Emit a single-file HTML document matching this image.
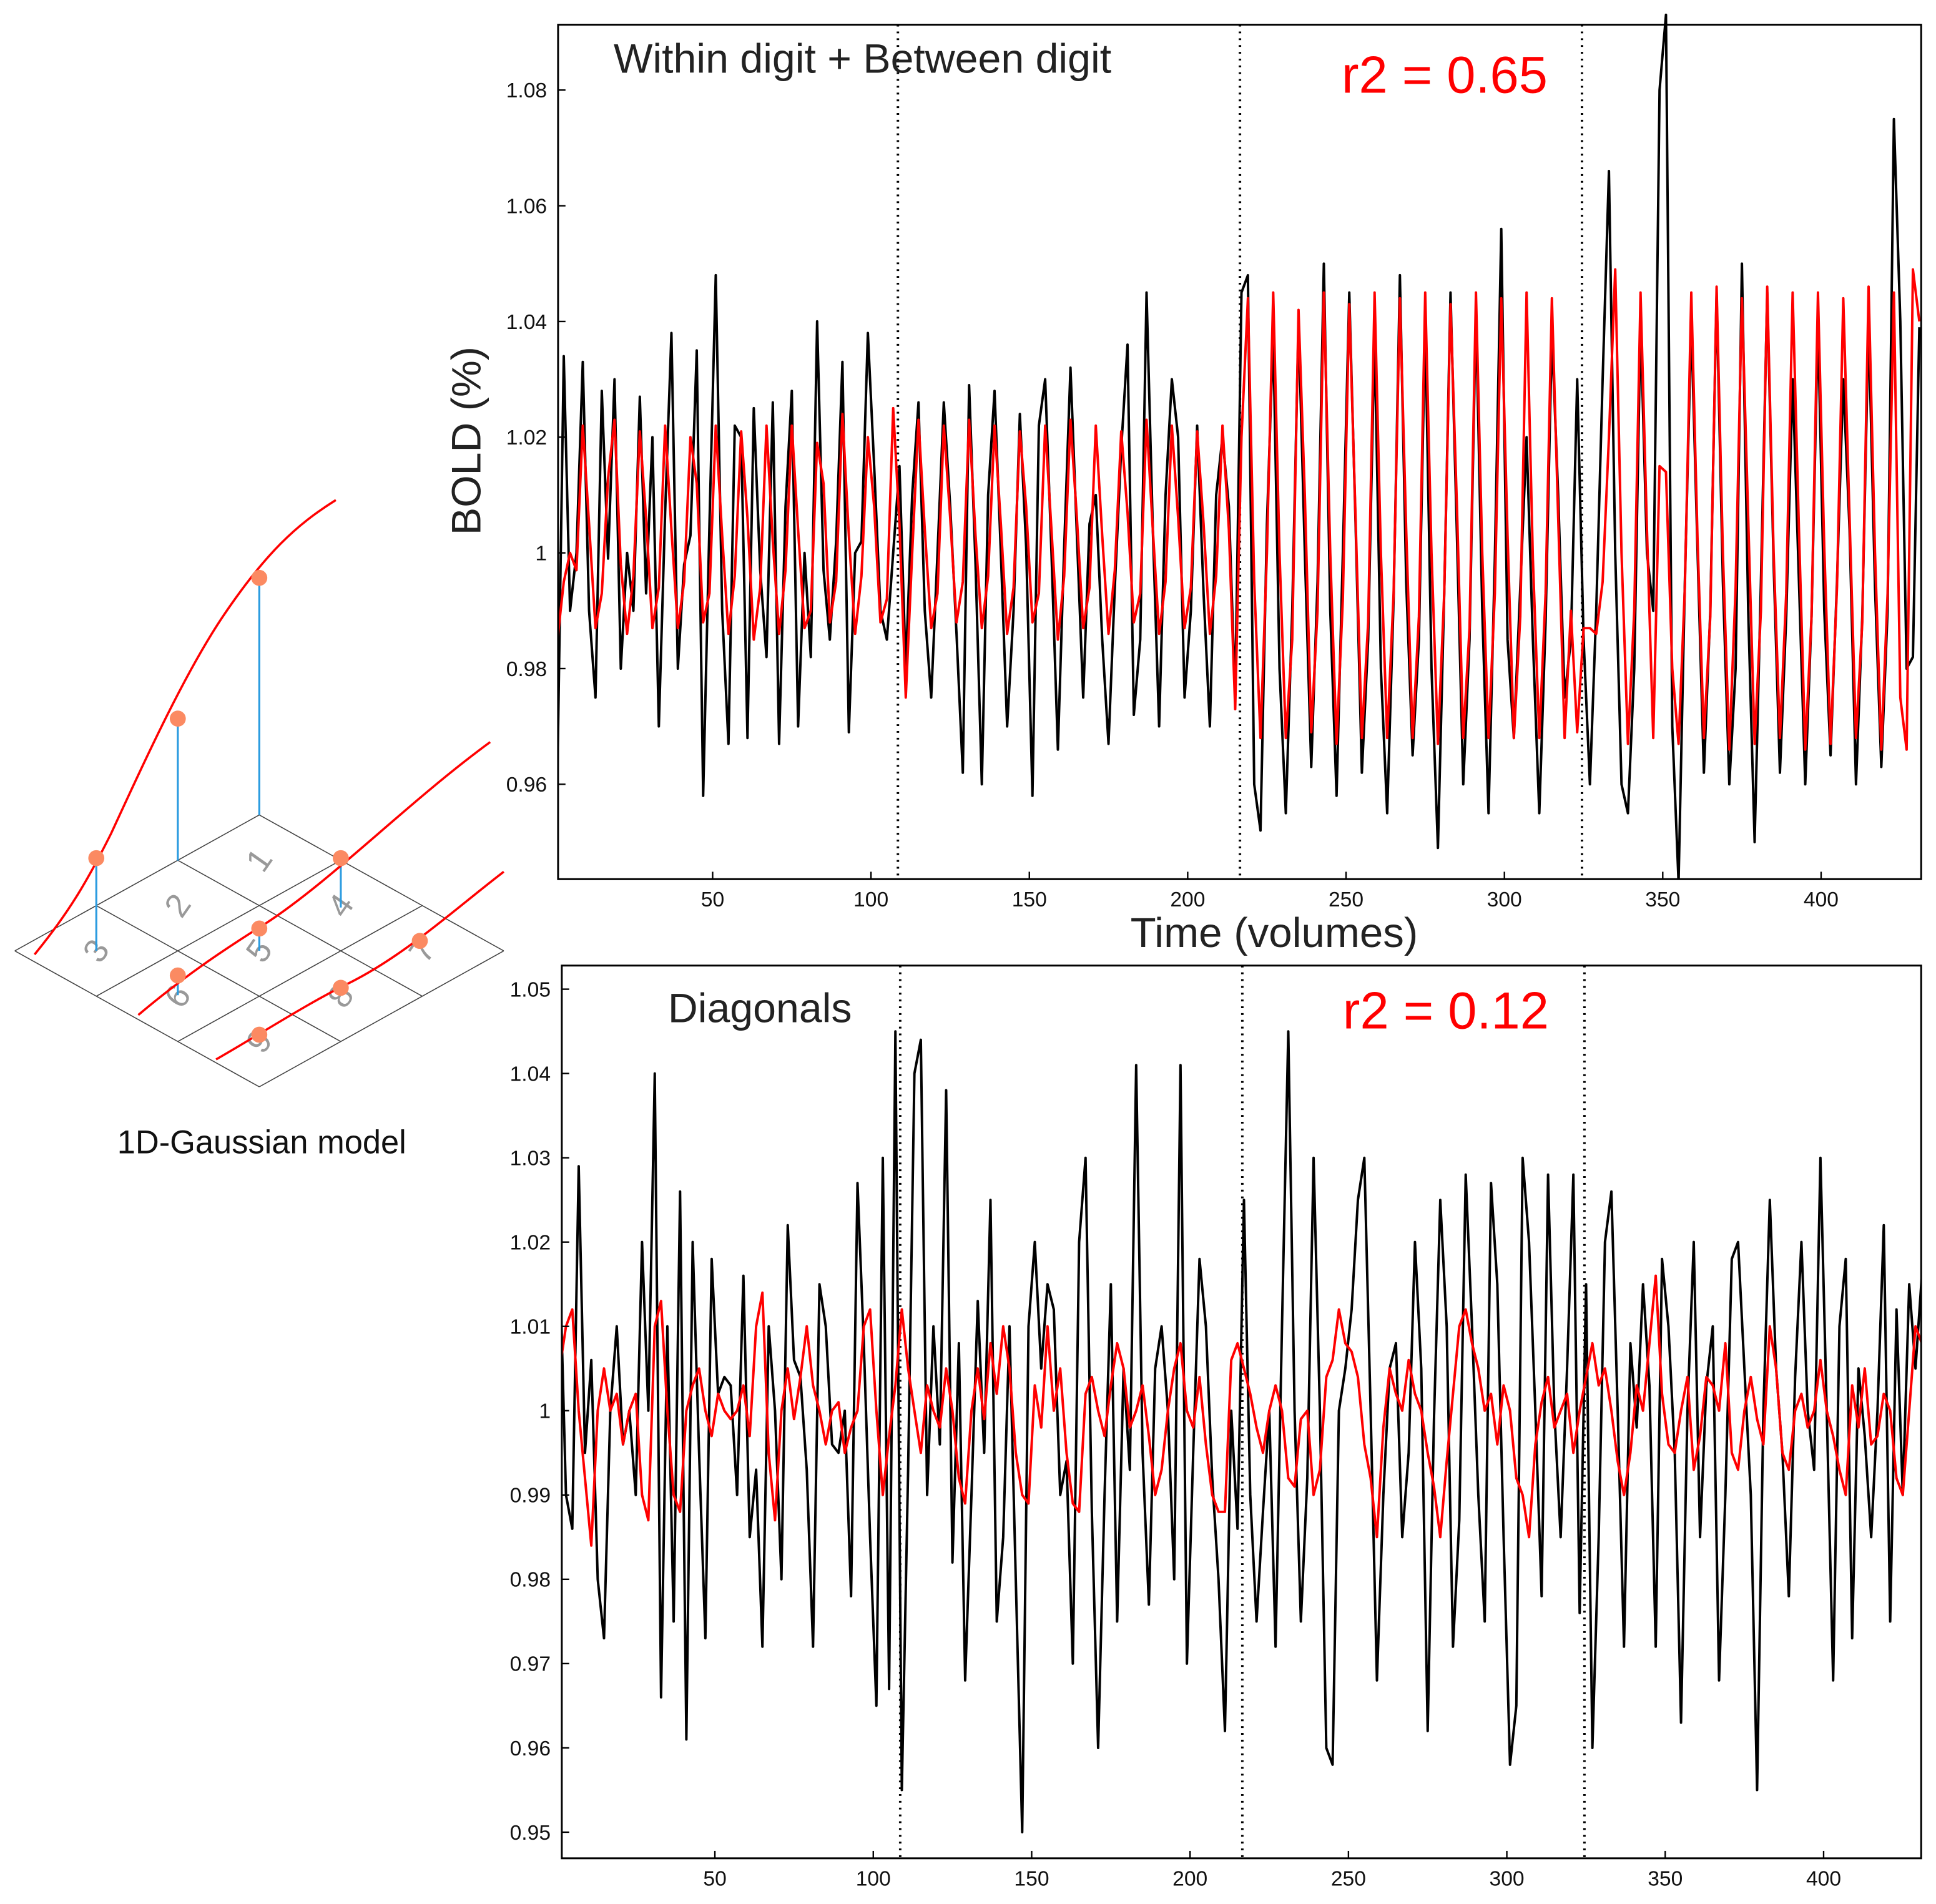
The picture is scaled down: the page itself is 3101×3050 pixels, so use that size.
<!DOCTYPE html>
<html><head><meta charset="utf-8"><style>
html,body{margin:0;padding:0;background:#fff}
svg{display:block}
text{font-family:"Liberation Sans",sans-serif}
</style></head><body>
<svg id="fig" width="3101" height="3050" viewBox="0 0 1568 1542" preserveAspectRatio="none" xmlns="http://www.w3.org/2000/svg">
<rect width="1568" height="1542" fill="#fff"/>
<g id="diagram"></g>
<text x="212" y="934" font-size="26.5" text-anchor="middle" fill="#111">1D-Gaussian model</text>
<g id="top"></g>
<g id="bot"></g>
</svg>
<script>
const xTicks=[50,100,150,200,250,300,350,400];
const topYTicks=[0.96,0.98,1,1.02,1.04,1.06,1.08];
const topYLabels=["0.96","0.98","1","1.02","1.04","1.06","1.08"];
const botYTicks=[0.95,0.96,0.97,0.98,0.99,1,1.01,1.02,1.03,1.04,1.05];
const botYLabels=["0.95","0.96","0.97","0.98","0.99","1","1.01","1.02","1.03","1.04","1.05"];
const runBoundaries=[108.5,216.5,324.5];
const topRed=[
0.985,0.995,1.000,0.997,1.022,1.005,0.987,0.993,1.013,1.023,0.998,0.986,
0.996,1.021,1.006,0.987,0.994,1.022,1.004,0.987,0.995,1.020,1.012,0.988,
0.993,1.022,1.003,0.986,0.996,1.021,1.006,0.985,0.994,1.022,1.002,0.986,
0.997,1.022,1.004,0.987,0.990,1.019,1.012,0.988,0.995,1.024,1.003,0.986,
0.996,1.020,1.008,0.988,0.992,1.025,
1.005,0.975,1.000,1.023,1.004,0.987,0.993,1.022,1.006,0.988,0.995,1.023,
1.003,0.987,0.996,1.022,1.005,0.986,0.994,1.021,1.008,0.988,0.993,1.022,
1.004,0.985,0.996,1.023,1.006,0.987,0.994,1.022,1.003,0.986,0.997,1.021,
1.007,0.988,0.993,1.023,1.004,0.986,0.995,1.022,1.006,0.987,0.994,1.021,
1.005,0.986,0.996,1.022,1.004,0.973,
1.020,1.044,0.995,0.968,1.000,1.045,1.000,0.968,0.985,1.042,1.010,0.969,
0.990,1.045,1.000,0.967,0.992,1.043,1.006,0.968,0.988,1.045,1.000,0.968,
0.993,1.044,1.004,0.968,0.989,1.045,1.000,0.967,0.993,1.043,1.008,0.968,
0.987,1.045,1.000,0.968,0.993,1.044,1.003,0.968,0.989,1.045,0.999,0.968,
0.993,1.044,1.006,0.968,0.990,0.969,
0.987,0.987,0.986,0.995,1.020,1.049,1.000,0.967,0.990,1.045,1.004,0.968,
1.015,1.014,0.980,0.967,0.994,1.045,1.002,0.968,0.989,1.046,1.000,0.966,
0.994,1.044,1.006,0.967,0.990,1.046,1.000,0.968,0.993,1.045,1.004,0.966,
0.989,1.045,1.001,0.967,0.994,1.044,1.006,0.968,0.988,1.046,1.000,0.966,
0.993,1.045,0.975,0.966,1.049,1.040];
const topBlack=[
0.962,1.034,0.990,1.000,1.033,0.990,0.975,1.028,0.999,1.030,0.980,1.000,
0.990,1.027,0.993,1.020,0.970,1.007,1.038,0.980,0.998,1.003,1.035,0.958,
1.005,1.048,0.990,0.967,1.022,1.020,0.968,1.025,0.997,0.982,1.026,0.967,
1.008,1.028,0.970,1.000,0.982,1.040,0.997,0.985,1.002,1.033,0.969,1.000,
1.002,1.038,1.015,0.990,0.985,1.000,
1.015,0.980,1.010,1.026,0.990,0.975,1.000,1.026,1.008,0.986,0.962,1.029,
0.998,0.960,1.010,1.028,1.000,0.970,0.990,1.024,1.001,0.958,1.022,1.030,
1.000,0.966,1.001,1.032,1.003,0.975,1.005,1.010,0.985,0.967,0.994,1.018,
1.036,0.972,0.985,1.045,1.004,0.970,1.010,1.030,1.020,0.975,0.990,1.022,
0.993,0.970,1.010,1.020,1.008,0.975,
1.045,1.048,0.960,0.952,1.005,1.038,0.980,0.955,0.990,1.040,1.000,0.963,
0.995,1.050,0.990,0.958,1.000,1.045,1.005,0.962,0.985,1.038,0.980,0.955,
0.992,1.048,0.995,0.965,0.985,1.040,0.980,0.949,0.993,1.045,1.003,0.960,
0.985,1.042,0.990,0.955,0.999,1.056,0.985,0.968,0.994,1.020,0.985,0.955,
0.988,1.038,1.010,0.975,0.985,1.030,
0.985,0.960,0.990,1.030,1.066,1.000,0.960,0.955,0.980,1.040,1.000,0.990,
1.080,1.093,0.970,0.943,0.995,1.040,1.000,0.962,0.990,1.045,0.995,0.960,
0.980,1.050,0.990,0.950,0.995,1.045,0.998,0.962,0.989,1.030,0.995,0.960,
0.989,1.040,0.990,0.965,0.995,1.030,1.004,0.960,0.989,1.040,0.994,0.963,
0.990,1.075,1.040,0.980,0.982,1.039];
const botRed=[
1.005,1.010,1.012,1.000,0.992,0.984,1.000,1.005,1.000,1.002,0.996,1.000,
1.002,0.990,0.987,1.010,1.013,1.000,0.990,0.988,1.000,1.003,1.005,1.000,
0.997,1.002,1.000,0.999,1.000,1.003,0.997,1.010,1.014,0.995,0.987,1.000,
1.005,0.999,1.004,1.010,1.003,1.000,0.996,1.000,1.001,0.995,0.998,1.000,
1.010,1.012,1.000,0.990,0.997,1.003,
1.012,1.005,1.000,0.995,1.003,1.000,0.998,1.005,1.000,0.992,0.989,1.000,
1.005,0.999,1.008,1.002,1.010,1.005,0.995,0.990,0.989,1.003,0.998,1.010,
1.000,1.005,0.995,0.989,0.988,1.002,1.004,1.000,0.997,1.003,1.008,1.005,
0.998,1.000,1.003,0.997,0.990,0.993,1.000,1.005,1.008,1.000,0.998,1.004,
0.996,0.990,0.988,0.988,1.006,1.008,
1.005,1.002,0.998,0.995,1.000,1.003,1.000,0.992,0.991,0.999,1.000,0.990,
0.993,1.004,1.006,1.012,1.008,1.007,1.004,0.996,0.992,0.985,0.998,1.005,
1.002,1.000,1.006,1.002,1.000,0.995,0.991,0.985,0.994,1.002,1.010,1.012,
1.008,1.005,1.000,1.002,0.996,1.003,1.000,0.992,0.990,0.985,0.996,1.001,
1.004,0.998,1.000,1.002,0.995,1.000,
1.004,1.008,1.003,1.005,1.000,0.994,0.990,0.995,1.003,1.000,1.008,1.016,
1.002,0.996,0.995,1.000,1.004,0.993,0.997,1.004,1.003,1.000,1.008,0.995,
0.993,1.000,1.004,0.999,0.996,1.010,1.005,0.995,0.993,1.000,1.002,0.998,
1.000,1.006,1.000,0.997,0.993,0.990,1.003,0.998,1.005,0.996,0.997,1.002,
1.000,0.992,0.990,1.000,1.010,1.008];
const botBlack=[
1.018,0.990,0.986,1.029,0.995,1.006,0.980,0.973,1.000,1.010,0.996,1.000,
0.990,1.020,1.000,1.040,0.966,1.010,0.975,1.026,0.961,1.020,0.995,0.973,
1.018,1.002,1.004,1.003,0.990,1.016,0.985,0.993,0.972,1.010,1.000,0.980,
1.022,1.006,1.004,0.993,0.972,1.015,1.010,0.996,0.995,1.000,0.978,1.027,
1.008,0.985,0.965,1.030,0.967,1.045,
0.955,0.993,1.040,1.044,0.990,1.010,0.996,1.038,0.982,1.008,0.968,0.990,
1.013,0.995,1.025,0.975,0.985,1.010,0.980,0.950,1.010,1.020,1.005,1.015,
1.012,0.990,0.994,0.970,1.020,1.030,0.988,0.960,0.990,1.015,0.975,1.005,
0.993,1.041,0.995,0.977,1.005,1.010,1.000,0.980,1.041,0.970,0.995,1.018,
1.010,0.992,0.980,0.962,1.000,0.986,
1.025,0.990,0.975,0.988,1.000,0.972,1.010,1.045,1.000,0.975,0.992,1.030,
1.000,0.960,0.958,1.000,1.005,1.012,1.025,1.030,1.000,0.968,0.990,1.005,
1.008,0.985,0.995,1.020,1.005,0.962,0.999,1.025,1.010,0.972,0.987,1.028,
1.010,0.990,0.975,1.027,1.015,0.985,0.958,0.965,1.030,1.020,1.000,0.978,
1.028,1.000,0.985,1.005,1.028,0.976,
1.015,0.960,0.985,1.020,1.026,1.000,0.972,1.008,0.998,1.015,1.003,0.972,
1.018,1.010,0.995,0.963,1.000,1.020,0.985,1.003,1.010,0.968,0.990,1.018,
1.020,1.005,0.990,0.955,1.000,1.025,1.005,0.995,0.978,1.004,1.020,1.000,
0.993,1.030,1.000,0.968,1.010,1.018,0.973,1.005,0.997,0.985,1.000,1.022,
0.975,1.012,0.990,1.015,1.005,1.016];

const NS="http://www.w3.org/2000/svg";
function mk(parent,tag,attrs,txt){const e=document.createElementNS(NS,tag);for(const k in attrs)e.setAttribute(k,attrs[k]);if(txt!==undefined)e.textContent=txt;parent.appendChild(e);return e;}

function drawChart(g,cfg){
  const X=v=>cfg.x0+(v-cfg.vmin)/(cfg.vmax-cfg.vmin)*(cfg.x1-cfg.x0);
  const Y=v=>cfg.y1-(v-cfg.ymin)/(cfg.ymax-cfg.ymin)*(cfg.y1-cfg.y0);
  const cp=mk(g,'clipPath',{id:cfg.id+'clip'});
  mk(cp,'rect',{x:cfg.x0,y:cfg.y0-12,width:cfg.x1-cfg.x0,height:cfg.y1-cfg.y0+12});
  runBoundaries.forEach(b=>{
    const l=mk(g,'line',{x1:X(b),x2:X(b),y1:cfg.y0,y2:cfg.y1,stroke:'#000','stroke-width':2,'stroke-dasharray':'1.5,4'});
    
    
  });
  [[cfg.black,'#000'],[cfg.red,'#f00']].forEach(([arr,col],si)=>{
    const pts=arr.map((v,i)=>X(1+2*i).toFixed(1)+','+Y(v).toFixed(1)).join(' ');
    const p=mk(g,'polyline',{points:pts,fill:'none',stroke:col,'stroke-width':2,'stroke-linejoin':'round','clip-path':'url(#'+cfg.id+'clip)'});
    
    
  });
  const fr=mk(g,'rect',{x:cfg.x0,y:cfg.y0,width:cfg.x1-cfg.x0,height:cfg.y1-cfg.y0,fill:'none',stroke:'#000','stroke-width':1.5});
  
  
  xTicks.forEach(t=>{
    mk(g,'line',{x1:X(t),x2:X(t),y1:cfg.y1,y2:cfg.y1-6,stroke:'#000','stroke-width':1.2});
    const tx=mk(g,'text',{x:X(t),y:cfg.y1+22,'font-size':17,'text-anchor':'middle',fill:'#111'},String(t));
    
    
  });
  cfg.yt.forEach((t,i)=>{
    mk(g,'line',{x1:cfg.x0,x2:cfg.x0+6,y1:Y(t),y2:Y(t),stroke:'#000','stroke-width':1.2});
    const tx=mk(g,'text',{x:cfg.x0-9,y:Y(t)+6,'font-size':17,'text-anchor':'end',fill:'#111'},cfg.yl[i]);
    
    
  });
}
drawChart(document.getElementById('top'),{id:'t',x0:452,x1:1556,y0:20,y1:712,vmin:1.2,vmax:431.6,ymin:0.9436,ymax:1.0913,black:topBlack,red:topRed,yt:topYTicks,yl:topYLabels});
drawChart(document.getElementById('bot'),{id:'b',x0:455,x1:1556,y0:782,y1:1505,vmin:1.67,vmax:430.8,ymin:0.9469,ymax:1.0528,black:botBlack,red:botRed,yt:botYTicks,yl:botYLabels});

const tg=document.getElementById('top'),bg=document.getElementById('bot');
let e;
e=mk(tg,'text',{x:497,y:59,'font-size':33.5,fill:'#222'},'Within digit + Between digit');
e=mk(tg,'text',{x:1170,y:75,'font-size':42,fill:'#f00','text-anchor':'middle'},'r2 = 0.65');
e=mk(tg,'text',{x:1032,y:767,'font-size':34,fill:'#222','text-anchor':'middle'},'Time (volumes)');
e=mk(tg,'text',{x:389,y:357,'font-size':33.5,fill:'#222','text-anchor':'middle',transform:'rotate(-90 389 357)'},'BOLD (%)');
e=mk(bg,'text',{x:541,y:828,'font-size':33.5,fill:'#222'},'Diagonals');
e=mk(bg,'text',{x:1171,y:833,'font-size':42,fill:'#f00','text-anchor':'middle'},'r2 = 0.12');

// diagram
const dg=document.getElementById('diagram');
const P=(u,v)=>[210+66*u-66*v,660+36.7*u+36.7*v];
for(let k=0;k<=3;k++){
  let a=P(k,0),b=P(k,3);mk(dg,'line',{x1:a[0],y1:a[1],x2:b[0],y2:b[1],stroke:'#444','stroke-width':0.8});
  a=P(0,k);b=P(3,k);mk(dg,'line',{x1:a[0],y1:a[1],x2:b[0],y2:b[1],stroke:'#444','stroke-width':0.8});
}
const digits=[[1,0,0],[4,1,0],[7,2,0],[2,0,1],[5,1,1],[8,2,1],[3,0,2],[6,1,2],[9,2,2]];
digits.forEach(([d,u,v])=>{const c=P(u+0.5,v+0.5);
  e=mk(dg,'text',{x:c[0],y:c[1]+9,'font-size':27,fill:'#999','text-anchor':'middle',transform:'rotate(-55 '+c[0]+' '+c[1]+')'},String(d));
  });
const stems=[[78,695,78,770],[144,582,144,697],[210,468,210,660],[276,695,276,735],[210,752,210,770],[144,790,144,806]];
stems.forEach(s=>mk(dg,'line',{x1:s[0],y1:s[1],x2:s[2],y2:s[3],stroke:'#2a9be0','stroke-width':1.6}));
mk(dg,'path',{d:'M28,773 C55,740 70,715 90,675 C120,610 150,545 180,500 C215,448 240,425 272,405',fill:'none',stroke:'#f00','stroke-width':1.8});
mk(dg,'path',{d:'M112,822 C150,790 180,770 215,748 C270,712 330,650 397,601',fill:'none',stroke:'#f00','stroke-width':1.8});
mk(dg,'path',{d:'M175,858 C215,835 250,812 285,795 C330,772 370,735 408,706',fill:'none',stroke:'#f00','stroke-width':1.8});
[[78,695],[144,582],[210,468],[276,695],[210,752],[144,790],[276,800],[340,762],[210,838]].forEach(d=>{
  e=mk(dg,'circle',{cx:d[0],cy:d[1],r:6.5,fill:'#fb8a62'});});
</script>
</body></html>
